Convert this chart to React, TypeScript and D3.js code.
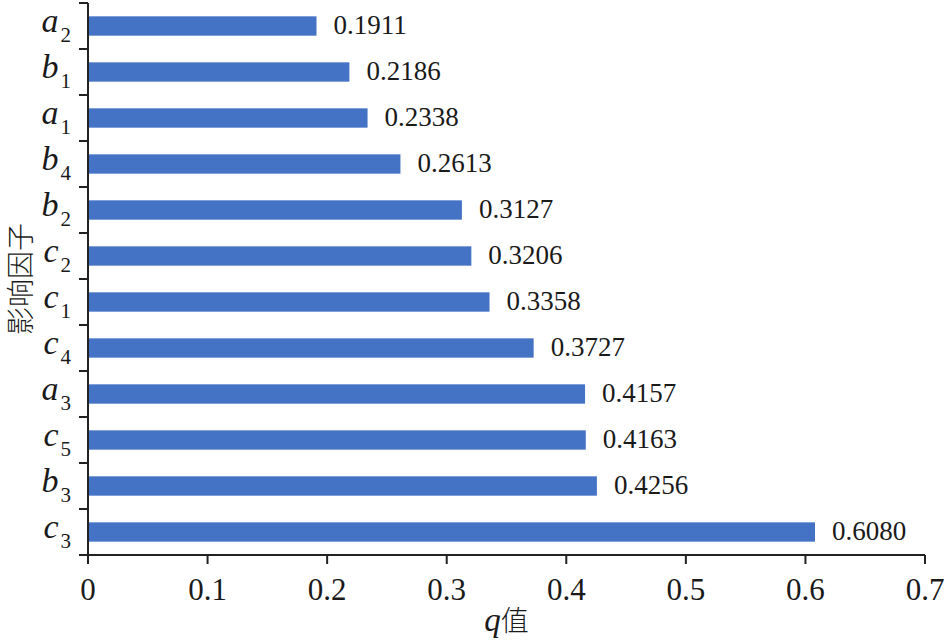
import { useEffect, useRef } from "react";
import * as d3 from "d3";

// factor letters and subscripts, top to bottom
const letters = ["a", "b", "a", "b", "b", "c", "c", "c", "a", "c", "b", "c"];
const subs = ["2", "1", "1", "4", "2", "2", "1", "4", "3", "5", "3", "3"];
const qValues = [0.1911, 0.2186, 0.2338, 0.2613, 0.3127, 0.3206, 0.3358, 0.3727, 0.4157, 0.4163, 0.4256, 0.608];
const xTicks = [0, 0.1, 0.2, 0.3, 0.4, 0.5, 0.6, 0.7];

const W = 947;
const H = 640;
const margin = { top: 3, right: 22, bottom: 85, left: 88 };
const serif = "Times New Roman, Liberation Serif, Tinos, Nimbus Roman, serif";
const cjk = "Noto Sans CJK SC, sans-serif";

export default function App() {
  const ref = useRef<SVGSVGElement>(null);

  useEffect(() => {
    if (!ref.current) return;
    const svg = d3.select(ref.current);
    svg.selectAll("*").remove();

    const iw = W - margin.left - margin.right;
    const ih = H - margin.top - margin.bottom;
    const g = svg.append("g").attr("transform", `translate(${margin.left},${margin.top})`);

    const keys = qValues.map((_, i) => String(i));
    const x = d3.scaleLinear().domain([0, 0.7]).range([0, iw]);
    const y = d3.scaleBand().domain(keys).range([0, ih]).paddingInner(0.58).paddingOuter(0.29);

    // bars
    g.selectAll(".bar")
      .data(qValues)
      .enter()
      .append("rect")
      .attr("x", 0)
      .attr("y", (d, i) => y(String(i))!)
      .attr("width", d => x(d))
      .attr("height", y.bandwidth())
      .attr("fill", "#4472C4");

    // value labels
    g.selectAll(".val")
      .data(qValues)
      .enter()
      .append("text")
      .attr("x", d => x(d) + 17)
      .attr("y", (d, i) => y(String(i))! + y.bandwidth() / 2 + 8)
      .text(d => d.toFixed(4))
      .attr("font-family", serif)
      .attr("font-size", 27)
      .attr("fill", "#1a1a1a");

    // y axis line and ticks at band boundaries
    const stroke = "#222";
    g.append("line").attr("x1", 0).attr("x2", 0).attr("y1", 0).attr("y2", ih)
      .attr("stroke", stroke).attr("stroke-width", 2);
    const step = y.step();
    const bounds = d3.range(keys.length + 1).map(i => i * step);
    g.selectAll(".ytick")
      .data(bounds)
      .enter()
      .append("line")
      .attr("x1", -9).attr("x2", 0)
      .attr("y1", d => d).attr("y2", d => d)
      .attr("stroke", stroke).attr("stroke-width", 2);

    // y category labels
    const yl = g.selectAll(".ylab")
      .data(keys)
      .enter()
      .append("text")
      .attr("x", -17)
      .attr("y", d => y(d)! + y.bandwidth() / 2 + 6)
      .attr("text-anchor", "end")
      .attr("font-family", serif)
      .attr("fill", "#1a1a1a");
    yl.append("tspan")
      .text((d, i) => letters[i])
      .attr("font-style", "italic")
      .attr("font-size", 34);
    yl.append("tspan")
      .attr("dy", 10)
      .attr("dx", 2)
      .text((d, i) => subs[i])
      .attr("font-size", 21);

    // x axis
    g.append("line").attr("x1", 0).attr("x2", iw).attr("y1", ih).attr("y2", ih)
      .attr("stroke", stroke).attr("stroke-width", 2);
    g.selectAll(".xtick")
      .data(xTicks)
      .enter()
      .append("line")
      .attr("x1", d => x(d)).attr("x2", d => x(d))
      .attr("y1", ih).attr("y2", ih + 9)
      .attr("stroke", stroke).attr("stroke-width", 2);
    g.selectAll(".xlab")
      .data(xTicks)
      .enter()
      .append("text")
      .attr("x", d => x(d))
      .attr("y", ih + 45)
      .attr("text-anchor", "middle")
      .text(d => String(d))
      .attr("font-family", serif)
      .attr("font-size", 31)
      .attr("fill", "#1a1a1a");

    // axis titles
    const xt = svg.append("text")
      .attr("x", margin.left + iw / 2)
      .attr("y", 631)
      .attr("text-anchor", "middle")
      .attr("fill", "#1a1a1a");
    xt.append("tspan").text("q").attr("font-family", serif).attr("font-style", "italic").attr("font-size", 33);
    xt.append("tspan").text("值").attr("font-family", cjk).attr("font-size", 28).attr("font-weight", 300);

    svg.append("text")
      .attr("transform", `translate(19,${margin.top + ih / 2}) rotate(-90)`)
      .attr("text-anchor", "middle")
      .attr("dominant-baseline", "central")
      .text("影响因子")
      .attr("font-family", cjk)
      .attr("font-size", 28)
      .attr("font-weight", 300)
      .attr("fill", "#1a1a1a");
  }, []);

  return (
    <svg
      ref={ref}
      width={W}
      height={H}
      viewBox={`0 0 ${W} ${H}`}
      style={{ position: "absolute", left: 0, top: 0, background: "#fff" }}
    />
  );
}
